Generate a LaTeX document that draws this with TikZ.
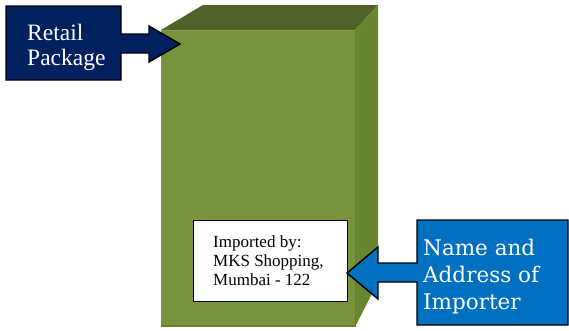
\documentclass[tikz,border=0pt]{standalone}
\usepackage{fontspec}
\newfontfamily\timesfont{Liberation Serif}
\newfontfamily\widefont{DejaVu Serif}
\begin{document}
\begin{tikzpicture}[x=1pt,y=-1pt,
  frontface/.style={fill=olivefront},
  topface/.style={fill=olivetop},
  sideface/.style={fill=oliveside},
  callout/.style={draw=black,line width=1.4pt,line join=miter},
  labelbox/.style={draw=black,line width=1.3pt,fill=white},
  calltext/.style={text=white,inner sep=0pt,align=left},
]
\definecolor{olivefront}{HTML}{77933C}
\definecolor{olivetop}{HTML}{4F6228}
\definecolor{oliveside}{HTML}{68862F}
\definecolor{oliveedge}{HTML}{86A24A}
\definecolor{oliveshade}{HTML}{657F33}
\definecolor{navy}{HTML}{002060}
\definecolor{calloutblue}{HTML}{0070C0}
\useasboundingbox (0,0) rectangle (569,330);

% the package: a box seen from the front, with its top and right faces
\fill[frontface] (161,30) rectangle (355,327);
\fill[topface] (161,30) -- (203,5) -- (378,5) -- (355,30) -- cycle;
\fill[sideface] (355,30) -- (378,5) -- (378,282) -- (355,327) -- cycle;
\draw[oliveedge,line width=1pt] (161,30.5) -- (355,30.5);
\draw[oliveshade,line width=1.2pt] (161,326) -- (355,326);
\draw[oliveshade,line width=1pt] (355.5,30) -- (355.5,327);

% importer label printed on the front face
\node[labelbox,minimum width=154pt,minimum height=81pt,anchor=north west]
  (label) at (193,220) {};
\node[font=\timesfont\fontsize{17}{19}\selectfont,inner sep=0pt,align=left,
  anchor=base west] (labeltext) at (213,285)
  {Imported by:\\MKS Shopping,\\Mumbai - 122};

% callout naming the retail package
\filldraw[callout,fill=navy] (6,6) -- (121,6) -- (121,34) -- (149,34) -- (149,26)
  -- (180,44) -- (149,62) -- (149,53) -- (121,53) -- (121,80) -- (6,80) -- cycle;
\node[calltext,font=\timesfont\fontsize{23.5}{25}\selectfont,anchor=base west]
  (retail) at (27,65) {Retail\\Package};

% callout pointing at the importer label
\filldraw[callout,fill=calloutblue] (417,220) -- (568,220) -- (568,325) -- (417,325)
  -- (417,282) -- (378,282) -- (378,299) -- (347,273) -- (378,247) -- (378,263)
  -- (417,263) -- cycle;
\node[calltext,font=\widefont\fontsize{21.5}{27}\selectfont,anchor=base west]
  (importer) at (423,309) {Name and\\Address of\\Importer};
\end{tikzpicture}
\end{document}
